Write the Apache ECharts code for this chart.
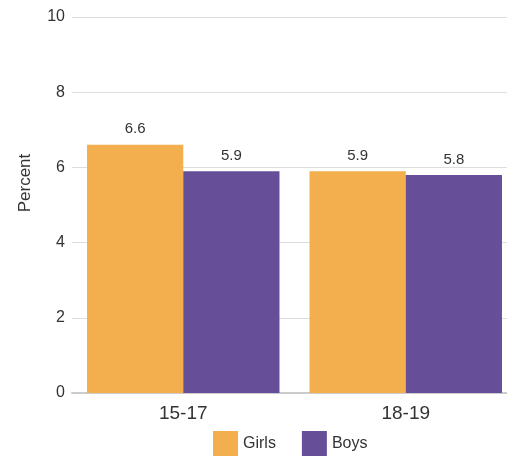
<!DOCTYPE html>
<html><head><meta charset="utf-8">
<script src="https://cdn.jsdelivr.net/npm/echarts@6/dist/echarts.min.js"></script>
<style>html,body{margin:0;padding:0;background:#fff}#c{width:507px;height:457px}</style>
</head><body><div id="c"></div>
<script>
var categories = ['15-17', '18-19'];
var girls = [6.6, 5.9];
var boys = [5.9, 5.8];
var seriesNames = ['Girls', 'Boys'];
var yTicks = [0, 2, 4, 6, 8, 10];

var font = '"Liberation Sans", Arial, sans-serif';
var chart = echarts.init(document.getElementById('c'), null, {renderer: 'canvas'});
chart.setOption({
  animation: false,
  textStyle: {fontFamily: font},
  grid: {left: 72, right: -10, top: 17, bottom: 64, containLabel: false, outerBoundsMode: 'none'},
  legend: {
    data: seriesNames, top: 426, left: 208, itemWidth: 25, itemHeight: 25, itemGap: 26,
    icon: 'rect', textStyle: {fontSize: 16, color: '#333', fontFamily: font}
  },
  graphic: [{
    type: 'text', x: 25, y: 183, rotation: Math.PI / 2,
    style: {text: 'Percent', font: '17px ' + font, fill: '#333', textAlign: 'center', textVerticalAlign: 'middle'}
  }],
  xAxis: {
    type: 'category', data: categories,
    axisLine: {lineStyle: {color: '#cccccc', width: 2}},
    axisTick: {show: false},
    axisLabel: {fontSize: 19, color: '#333', margin: 11, fontFamily: font}
  },
  yAxis: {
    type: 'value', min: yTicks[0], max: yTicks[yTicks.length - 1], interval: 2,
    axisLine: {show: false}, axisTick: {show: false},
    splitLine: {lineStyle: {color: '#dddddd', width: 1}},
    axisLabel: {fontSize: 16, color: '#333', margin: 7, fontFamily: font}
  },
  series: [
    {name: seriesNames[0], type: 'bar', data: girls, barGap: '0%', barCategoryGap: '13.5%',
     itemStyle: {color: '#F3AE4E'},
     label: {show: true, position: 'top', fontSize: 15, color: '#333', distance: 8, fontFamily: font}},
    {name: seriesNames[1], type: 'bar', data: boys, barGap: '0%', barCategoryGap: '13.5%',
     itemStyle: {color: '#664F98'},
     label: {show: true, position: 'top', fontSize: 15, color: '#333', distance: 8, fontFamily: font}}
  ]
});
</script></body></html>
